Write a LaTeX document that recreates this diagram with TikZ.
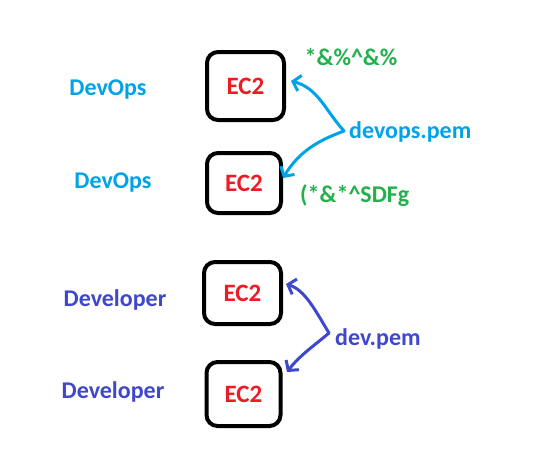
\documentclass[tikz,border=0pt]{standalone}
\usepackage{fontspec}
\setmainfont{Carlito}
\usetikzlibrary{arrows.meta}
\definecolor{pblue}{HTML}{00A2E8}
\definecolor{pgreen}{HTML}{22B14C}
\definecolor{pred}{HTML}{ED1C24}
\definecolor{pindigo}{HTML}{3F48CC}
\begin{document}
\begin{tikzpicture}[x=1pt,y=-1pt,
  ec2/.style={draw=black,line width=4pt,rounded corners=11pt,minimum width=74pt,minimum height=64pt,text=pred,font=\bfseries\fontsize{25}{26}\selectfont,inner sep=0pt},
  lbl/.style={font=\bfseries\fontsize{24}{25}\selectfont,inner sep=0pt},
  harrow/.style={line width=3pt,-{Straight Barb[length=7pt,width=16pt,line width=3pt]},line cap=round,line join=round}]
\useasboundingbox[fill=white] (0,0) rectangle (537,450);
\node[ec2,minimum height=68pt,minimum width=77pt] (b1) at (245.5,86) {EC2};
\node[ec2,minimum height=60pt] (b2) at (244,183) {EC2};
\node[ec2,minimum height=62pt,minimum width=77pt] (b3) at (242.5,293) {EC2};
\node[ec2] (b4) at (243.5,394) {EC2};
\node[lbl,text=pblue] (l1) at (108,90) {DevOps};
\node[lbl,text=pblue] (l2) at (113,183) {DevOps};
\node[lbl,text=pindigo] (l3) at (115,300) {Developer};
\node[lbl,text=pindigo] (l4) at (113,392) {Developer};
\node[lbl,text=pgreen] (p1) at (351,57) {*\&\%\^{}\&\%};
\node[lbl,text=pblue,anchor=west] (k1) at (349,132) {devops.pem};
\node[lbl,text=pgreen,anchor=west] (p2) at (300,196) {(*\&*\^{}SDFg};
\node[lbl,text=pindigo,anchor=west] (k2) at (335,339) {dev.pem};
\coordinate (k1o) at (344,131);
\coordinate (k2o) at (329,333);
\draw[harrow,pblue] (k1o) .. controls (325,110) and (318,88) .. (291,81);
\draw[harrow,pblue] (k1o) .. controls (320,140) and (300,150) .. (283,178);
\draw[harrow,pindigo] (k2o) .. controls (315,310) and (305,290) .. (286,284);
\draw[harrow,pindigo] (k2o) .. controls (315,345) and (300,355) .. (287,372);
\end{tikzpicture}
\end{document}
